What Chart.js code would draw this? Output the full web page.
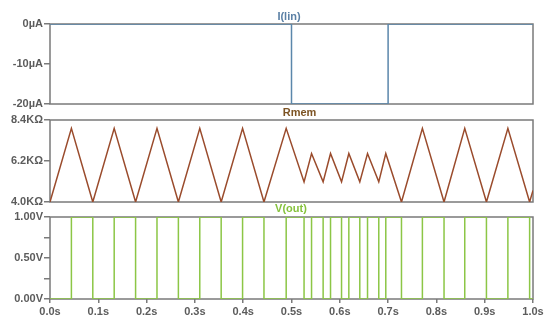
<!DOCTYPE html>
<html><head><meta charset="utf-8">
<script src="https://cdn.jsdelivr.net/npm/chart.js@4/dist/chart.umd.min.js"></script>
<style>
html,body{margin:0;padding:0;background:#fff;}
#wrap{position:relative;width:550px;height:326px;overflow:hidden;background:#fff;}
canvas{position:absolute;left:0;}
</style></head><body>
<div id="wrap">
<canvas id="c1" width="550" height="115" style="top:0px"></canvas>
<canvas id="c2" width="550" height="110" style="top:105px"></canvas>
<canvas id="c3" width="550" height="126" style="top:200px"></canvas>
</div>
<script>
// ---- data ----
const xTickValues = [0, 0.1, 0.2, 0.3, 0.4, 0.5, 0.6, 0.7, 0.8, 0.9, 1.0];

// I(lin): current source (µA), step points
const iTimes  = [0, 0.5, 0.7, 1.0];
const iValues = [0, -20, 0, 0];
const iTicks  = [-20, -10, 0];

// Rmem (KΩ) triangle waveform vertices
const rTimes  = [0, 0.0443, 0.0886, 0.1329, 0.1772, 0.2215, 0.2658, 0.3101, 0.3544, 0.3987, 0.4430, 0.4890,
                 0.526, 0.5415, 0.5655, 0.5808, 0.6036, 0.6187, 0.6414, 0.6574, 0.6807, 0.6952,
                 0.7277, 0.771, 0.8158, 0.8587, 0.9036, 0.948, 0.993, 1.0];
const rValues = [4.0, 7.95, 4.0, 7.95, 4.0, 7.95, 4.0, 7.95, 4.0, 7.95, 4.0, 7.95,
                 5.08, 6.6, 5.08, 6.6, 5.08, 6.6, 5.08, 6.6, 5.08, 6.6,
                 4.0, 7.95, 4.0, 7.95, 4.0, 7.95, 4.0, 4.62];
const rTicks  = [4.0, 6.2, 8.4];

// V(out) (V) step transitions: level holds from each time onward
const vTimes  = [0, 0.0443, 0.0886, 0.1329, 0.1772, 0.2215, 0.2658, 0.3101, 0.3544, 0.3987, 0.4430, 0.4890,
                 0.526, 0.5415, 0.5655, 0.5808, 0.6036, 0.6187, 0.6414, 0.6574, 0.6807, 0.6952,
                 0.7277, 0.771, 0.8158, 0.8587, 0.9036, 0.948, 0.993, 1.0];
const vLevels = [0, 1, 0, 1, 0, 1, 0, 1, 0, 1, 0, 1,
                 0, 1, 0, 1, 0, 1, 0, 1, 0, 1,
                 0, 1, 0, 1, 0, 1, 0, 0];
const vTicks  = [0, 0.25, 0.5, 0.75, 1.0];
const vLabeledTicks = [0, 0.5, 1.0];

// ---- styling ----
const FONT = {family: '"Liberation Sans", Arial, Helvetica, sans-serif', size: 11, weight: 'bold'};
const TICK_COLOR = '#5c5c5c';
const FRAME_COLOR = '#7a7a7a';

const framePlugin = {
  id: 'frame',
  beforeDatasetsDraw(chart) {
    const {ctx, chartArea: a} = chart;
    ctx.save();
    ctx.strokeStyle = FRAME_COLOR;
    ctx.lineWidth = 1.5;
    ctx.strokeRect(a.left, a.top, a.right - a.left, a.bottom - a.top);
    ctx.restore();
  }
};
const titlePlugin = {
  id: 'panelTitle',
  afterDraw(chart, args, opts) {
    const ctx = chart.ctx;
    ctx.save();
    ctx.font = 'bold 11px "Liberation Sans", Arial, sans-serif';
    ctx.fillStyle = opts.color;
    ctx.textAlign = 'center';
    ctx.textBaseline = 'middle';
    ctx.fillText(opts.text, opts.x, opts.y);
    ctx.restore();
  }
};

function panel(id, p) {
  const pts = p.times.map((t, i) => ({x: t, y: p.values[i]}));
  return new Chart(document.getElementById(id), {
    type: 'line',
    data: {datasets: [{
      data: pts, borderColor: p.color, borderWidth: 1.5, pointRadius: 0,
      fill: false, tension: 0, stepped: p.stepped || false
    }]},
    options: {
      responsive: false, animation: false, devicePixelRatio: 1,
      layout: {padding: {top: p.padTop, bottom: p.padBottom, left: 0, right: 17}},
      plugins: {
        legend: {display: false}, tooltip: {enabled: false},
        panelTitle: {text: p.title, color: p.titleColor, x: p.titleX, y: p.titleY}
      },
      scales: {
        x: {
          type: 'linear', min: 0, max: 1, display: !!p.showX,
          afterBuildTicks: s => { s.ticks = xTickValues.map(v => ({value: v})); },
          afterFit: s => { if (p.showX) { s.height = 24; } },
          ticks: {callback: v => v.toFixed(1) + 's', color: TICK_COLOR, font: FONT, padding: 2,
                  maxRotation: 0, autoSkip: false},
          grid: {drawOnChartArea: false, drawTicks: true, tickLength: 4, color: FRAME_COLOR, lineWidth: 1.5},
          border: {display: false}
        },
        y: {
          type: 'linear', min: p.yMin, max: p.yMax,
          afterBuildTicks: s => { s.ticks = p.yTicks.map(v => ({value: v})); },
          afterFit: s => { s.width = 50; },
          ticks: {callback: p.yFmt, color: TICK_COLOR, font: FONT, padding: 1, autoSkip: false},
          grid: {drawOnChartArea: false, drawTicks: true, tickLength: 6, color: FRAME_COLOR, lineWidth: 1.5},
          border: {display: false}
        }
      }
    },
    plugins: [framePlugin, titlePlugin]
  });
}

panel('c1', {
  times: iTimes, values: iValues, stepped: 'before', color: '#5b87ab',
  yMin: -20, yMax: 0, yTicks: iTicks, yFmt: v => v + 'µA',
  padTop: 24, padBottom: 11,
  title: 'I(lin)', titleColor: '#5b80a5', titleX: 289, titleY: 17
});
panel('c2', {
  times: rTimes, values: rValues, color: '#9a4b2c',
  yMin: 4.0, yMax: 8.4, yTicks: rTicks, yFmt: v => v.toFixed(1) + 'KΩ',
  padTop: 15, padBottom: 13,
  title: 'Rmem', titleColor: '#7d5424', titleX: 299.5, titleY: 7.5
});
panel('c3', {
  times: vTimes, values: vLevels, stepped: 'before', color: '#8cc646',
  yMin: 0, yMax: 1, yTicks: vTicks,
  yFmt: v => vLabeledTicks.some(t => Math.abs(t - v) < 1e-9) ? v.toFixed(2) + 'V' : '',
  padTop: 17, padBottom: 3, showX: true,
  title: 'V(out)', titleColor: '#86c23c', titleX: 291, titleY: 8.5
});
</script>
</body></html>
